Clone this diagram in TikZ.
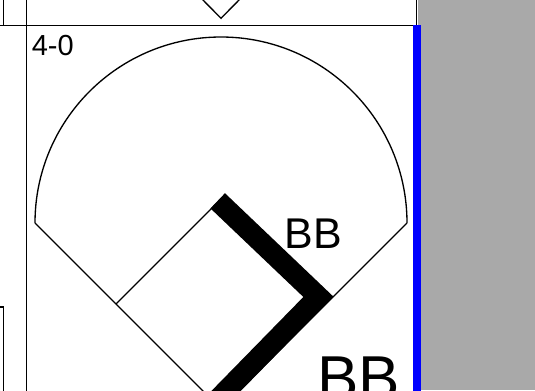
\documentclass[tikz,border=0pt]{standalone}
\usepackage{fontspec}
\setmainfont{Liberation Sans}
\begin{document}
\begin{tikzpicture}[x=0.75pt,y=-0.75pt,
  thin/.style={draw=black,line width=1pt},
  frame/.style={draw=black,line width=1.1pt},
  thick/.style={draw=black,line width=15.75pt,line join=miter,line cap=butt},
  lbl/.style={anchor=base west,inner sep=0pt,text=black}]
\useasboundingbox (0,0) rectangle (535,390);
\clip (0,0) rectangle (535,390);
% grey margin
\fill[color={rgb,255:red,169;green,169;blue,169}] (417.7,0) rectangle (535,390);
% frames
\coordinate (tl) at (-5,25.3);
\coordinate (tr) at (416.7,25.3);
\coordinate (trt) at (416.7,-5);
\draw[frame] (tl) -- (tr) -- (trt);
\draw[frame] (3.3,-5) -- (3.3,25.3);
\draw[frame] (26.3,-5) -- (26.3,395);
\draw[frame] (-5,307) -| (3.3,395);
% V of the diamond above
\coordinate (vtop) at (221,18.3);
\draw[thin] (201,-2) -- (vtop) -- (241,-2);
% blue bar
\fill[blue] (412.7,25.3) rectangle (420.7,395);
% field
\coordinate (home) at (221,409);
\coordinate (first) at (326,304);
\coordinate (second) at (221,199);
\coordinate (third) at (116,304);
\coordinate (lf) at (35,223);
\coordinate (rf) at (407,223);
\coordinate (tstart) at (217.7,200.8);
\coordinate (bend) at (318.3,296.7);
\coordinate (hend) at (205.5,412);
\draw[thin] (rf) arc[start angle=0,end angle=-180,radius=186];
\draw[thin] (lf) -- (home) -- (rf);
\draw[thin] (third) -- (second);
\draw[thick] (tstart) -- (bend) -- (hend);
% labels
\node[lbl,font=\fontsize{21.75}{26}\selectfont] (score) at (31.5,55) {4-0};
\node[lbl,font=\fontsize{32.25}{38}\selectfont] (bb1) at (284.5,248.3) {BB};
\node[lbl,font=\fontsize{46.5}{54}\selectfont] (bb2) at (317,399.4) {BB};
\end{tikzpicture}
\end{document}
